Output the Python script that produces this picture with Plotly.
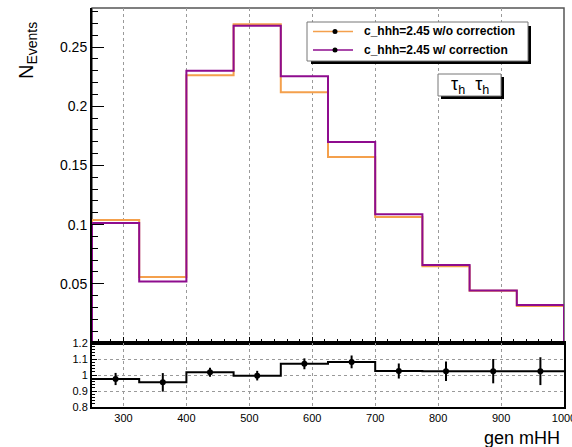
import plotly.graph_objects as go
import numpy as np

# ---------------- data ----------------
bin_edges = [250, 325, 400, 475, 550, 625, 700, 775, 850, 925, 1000]
w_o_corr = [0.1040, 0.0557, 0.2262, 0.2692, 0.2119, 0.1571, 0.1065, 0.0649, 0.0442, 0.0312]
w_corr   = [0.1014, 0.0520, 0.2299, 0.2681, 0.2254, 0.1697, 0.1088, 0.0658, 0.0444, 0.0320]
ratio     = [0.975, 0.954, 1.017, 0.996, 1.070, 1.082, 1.025, 1.024, 1.024, 1.024]
ratio_err = [0.038, 0.058, 0.028, 0.030, 0.034, 0.040, 0.047, 0.061, 0.076, 0.087]
label_wo = "c_hhh=2.45 w/o correction"
label_w = "c_hhh=2.45 w/ correction"
top_yticks = [0.05, 0.10, 0.15, 0.20, 0.25]
top_yticktext = ["0.05", "0.1", "0.15", "0.2", "0.25"]
rat_yticks = [0.8, 0.9, 1.0, 1.1, 1.2]
rat_yticktext = ["0.8", "0.9", "1", "1.1", "1.2"]

ORANGE = "#F4A04C"
PURPLE = "#8E0C8E"
FONT = "Liberation Sans, Arial, Helvetica, sans-serif"

W, H = 572, 447
def px(x): return x / W
def py(y): return 1 - y / H

edges = np.array(bin_edges, dtype=float)
centers = (edges[:-1] + edges[1:]) / 2

def hist_outline(vals):
    xs = [edges[0]] + list(edges[:-1]) + [edges[-1], edges[-1]]
    ys = [0] + list(vals) + [vals[-1], 0]
    return xs, ys

fig = go.Figure()

xo, yo = hist_outline(w_o_corr)
fig.add_trace(go.Scatter(x=xo, y=yo, mode="lines", line=dict(color=ORANGE, width=2, shape="hv"),
                         showlegend=False, xaxis="x", yaxis="y"))
xp, yp = hist_outline(w_corr)
fig.add_trace(go.Scatter(x=xp, y=yp, mode="lines", line=dict(color=PURPLE, width=2, shape="hv"),
                         showlegend=False, xaxis="x", yaxis="y"))

# ratio
fig.add_trace(go.Scatter(x=list(edges), y=list(ratio) + [ratio[-1]], mode="lines",
                         line=dict(color="black", width=2, shape="hv"),
                         showlegend=False, xaxis="x2", yaxis="y2"))
fig.add_trace(go.Scatter(x=centers, y=ratio, mode="markers",
                         marker=dict(color="black", size=6),
                         error_y=dict(type="data", array=ratio_err, color="black", thickness=2, width=0),
                         showlegend=False, xaxis="x2", yaxis="y2"))

shapes = []
annotations = []

# top pad frame (gray top/right)
shapes.append(dict(type="rect", xref="paper", yref="paper", x0=px(92), x1=px(564), y0=py(343), y1=py(8),
                   line=dict(color="#555555", width=1.5), layer="below"))

# legend box with shadow
shapes.append(dict(type="rect", xref="paper", yref="paper", x0=px(311), x1=px(531), y0=py(64), y1=py(26),
                   line=dict(width=0), fillcolor="black", layer="above"))
shapes.append(dict(type="rect", xref="paper", yref="paper", x0=px(307), x1=px(528), y0=py(61), y1=py(22),
                   line=dict(color="#777777", width=1), fillcolor="white", layer="above"))
for yrow, col, lab in [(31.5, ORANGE, label_wo), (50, PURPLE, label_w)]:
    shapes.append(dict(type="line", xref="paper", yref="paper", x0=px(313), x1=px(353), y0=py(yrow), y1=py(yrow),
                       line=dict(color=col, width=1.5), layer="above"))
    shapes.append(dict(type="circle", xref="paper", yref="paper", x0=px(332.5), x1=px(337.5),
                       y0=py(yrow + 2.5), y1=py(yrow - 2.5), line=dict(color="black", width=0),
                       fillcolor="black", layer="above"))
    annotations.append(dict(xref="paper", yref="paper", x=px(362), y=py(yrow), xanchor="left", yanchor="middle",
                            text="<b>" + lab + "</b>", showarrow=False,
                            font=dict(family=FONT, size=12, color="black")))

# tau tau label box with shadow
shapes.append(dict(type="rect", xref="paper", yref="paper", x0=px(441), x1=px(504), y0=py(99), y1=py(77),
                   line=dict(width=0), fillcolor="black", layer="above"))
shapes.append(dict(type="rect", xref="paper", yref="paper", x0=px(438), x1=px(501), y0=py(96), y1=py(74),
                   line=dict(color="#777777", width=1), fillcolor="white", layer="above"))
annotations.append(dict(xref="paper", yref="paper", x=px(469.5), y=py(85), xanchor="center", yanchor="middle",
                        text="τ<sub>h</sub>  τ<sub>h</sub>", showarrow=False,
                        font=dict(family=FONT, size=18, color="black")))

# y title
annotations.append(dict(xref="paper", yref="paper", x=px(28), y=py(51), xanchor="center", yanchor="middle",
                        text="N<sub>Events</sub>", textangle=-90, showarrow=False,
                        font=dict(family=FONT, size=20, color="black")))
# x title
annotations.append(dict(xref="paper", yref="paper", x=px(562), y=py(426), xanchor="right", yanchor="top",
                        text="gen mHH", showarrow=False,
                        font=dict(family=FONT, size=18, color="black")))

grid_style = dict(showgrid=True, gridcolor="#9a9a9a", griddash="dot", gridwidth=1)

fig.update_layout(
    width=W, height=H,
    margin=dict(l=0, r=0, t=0, b=0, autoexpand=False),
    paper_bgcolor="white", plot_bgcolor="white",
    showlegend=False,
    shapes=shapes, annotations=annotations,
    xaxis=dict(domain=[px(92), px(564)], range=[250, 1000], anchor="y", automargin=False,
               showticklabels=False, ticks="inside", ticklen=6, tickcolor="black", tickwidth=1,
               tickmode="linear", tick0=0, dtick=100,
               minor=dict(ticks="inside", ticklen=4, tickcolor="black", dtick=20, tick0=0, showgrid=False),
               showline=True, linecolor="black", linewidth=2, mirror=False, zeroline=False,
               **grid_style),
    yaxis=dict(domain=[py(343), py(8)], range=[0, 0.283], anchor="x", automargin=False,
               tickmode="array", tickvals=top_yticks, ticktext=top_yticktext,
               ticks="inside", ticklen=12, tickcolor="black", tickwidth=1,
               minor=dict(ticks="inside", ticklen=6, tickcolor="black", tickmode="linear", dtick=0.01, tick0=0,
                          showgrid=False),
               tickfont=dict(family=FONT, size=14, color="black"),
               showline=True, linecolor="black", linewidth=2, mirror=False, zeroline=False, showgrid=False),
    xaxis2=dict(domain=[px(92), px(564)], range=[250, 1000], anchor="y2", automargin=False,
                showticklabels=True, ticks="", tickmode="linear", tick0=0, dtick=100,
                ticklabeloverflow="allow",
                tickfont=dict(family=FONT, size=11, color="black"),
                showline=True, linecolor="black", linewidth=2, mirror=True, zeroline=False,
                **grid_style),
    yaxis2=dict(domain=[py(407), py(343)], range=[0.8, 1.2], anchor="x2", automargin=False,
                tickmode="array", tickvals=rat_yticks, ticktext=rat_yticktext,
                ticks="inside", ticklen=5, tickcolor="black", tickwidth=1,
                minor=dict(ticks="inside", ticklen=3, tickcolor="black", tickmode="linear", dtick=0.02, tick0=0,
                           showgrid=False),
                tickfont=dict(family=FONT, size=11, color="black"),
                showline=True, linecolor="black", linewidth=2, mirror=True, zeroline=False,
                **grid_style),
)

fig.write_html("out.html")
